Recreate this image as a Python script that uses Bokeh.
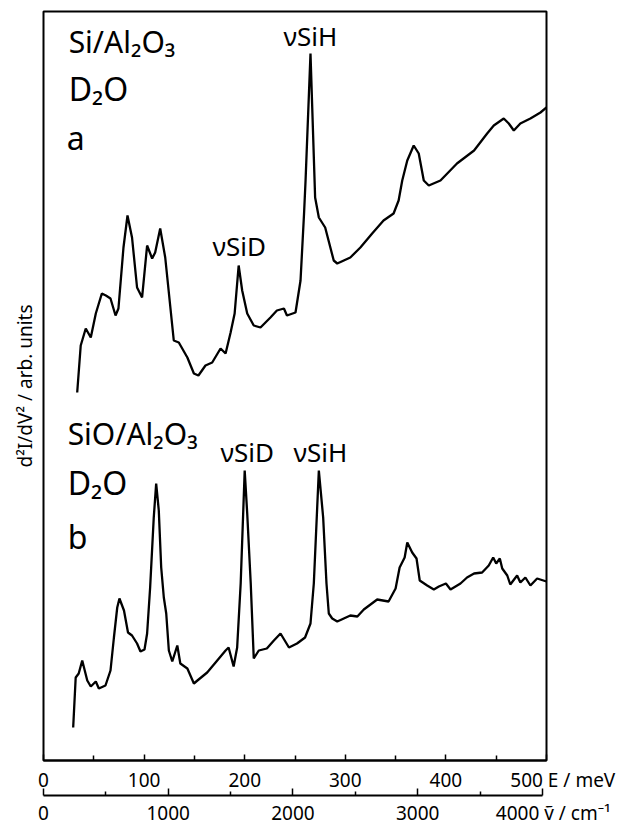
from bokeh.plotting import figure
from bokeh.models import Range1d, LinearAxis, FixedTicker, Label
from bokeh.embed import file_html
from bokeh.resources import INLINE

# ---- data (E in meV, signal in arbitrary units) ----
E_a = [33.5, 37, 42, 47, 52, 58, 62, 66.6, 71.6, 74.5, 79.5, 83.5, 88, 93, 98,
       103, 108, 111, 116, 121, 129.5, 134.5, 143, 149.5, 154, 161, 167.7, 176, 181, 186,
       190, 194, 197.5, 202.5, 209, 215.7, 225.6, 232, 239, 242, 250.5, 255.5, 259, 260.5, 265.4,
       270, 273.7, 280, 288.5, 292, 305, 315, 326.7, 338, 348, 353, 356.6, 361.6, 368, 373,
       378, 383, 394.6, 411, 428, 441, 447.6, 457.5, 462.5, 467.5, 474, 484, 494, 500]
I_a = [368, 415, 432, 423, 447, 467, 465, 462, 445, 452, 513, 545, 523, 473, 463,
       515, 502, 508, 532, 503, 420, 418, 403, 387, 385, 395, 398, 412, 407, 428,
       447, 495, 470, 447, 435, 433, 443, 450, 452, 445, 448, 480, 547, 580, 707,
       563, 543, 533, 500, 497, 503, 513, 527, 540, 547, 560, 580, 600, 615, 607,
       580, 575, 580, 597, 610, 627, 635, 642, 637, 630, 637, 642, 648, 653]

E_b = [29.5, 32, 35, 38.5, 43.5, 47, 52, 55, 61.6, 66.6, 70, 73.3, 75.5, 80, 84,
       88, 93, 96.4, 100.4, 103, 106, 109.6, 112, 114.6, 117, 119.6, 122, 124.6, 128, 133,
       136, 143, 149.5, 153, 162.7, 172.7, 181, 184, 189, 192.5, 196, 200, 202.5, 206, 209,
       214, 222, 229, 235.6, 244, 252, 260, 265.4, 268.7, 273.7, 278, 281.3, 283.6, 287, 292,
       305, 312, 318.4, 331.7, 343, 350, 354, 359, 361.6, 366.5, 370.8, 374, 381.4, 388, 393,
       400, 404.6, 414.5, 421, 428, 436, 442.6, 447, 450, 453.6, 456, 461, 464, 470.8, 474,
       479, 484, 490.7, 500]
I_b = [33, 83, 87, 100, 80, 74, 79, 72, 75, 90, 123, 153, 162, 150, 128,
       125, 117, 109, 111, 127, 173, 243, 277, 250, 193, 163, 147, 110, 99, 115,
       97, 92, 77, 80, 88, 100, 110, 113, 94, 113, 177, 290, 247, 177, 102,
       110, 112, 120, 127, 113, 117, 123, 137, 177, 290, 243, 177, 147, 142, 139,
       145, 144, 151, 161, 159, 172, 193, 203, 218, 208, 202, 180, 175, 171, 174,
       177, 171, 177, 183, 187, 188, 195, 203, 197, 202, 192, 185, 176, 185, 178,
       183, 175, 182, 179]

E_ticks = [0, 100, 200, 300, 400, 500]
E_minor = [50, 150, 250, 350, 450]
W_ticks = [0, 1000, 2000, 3000, 4000]
W_minor = [500, 1500, 2500, 3500]
MEV_TO_CM = 8.06554

FONT = "Noto Sans"
FS = "\u2007"  # figure space, used to shift the end labels

p = figure(frame_width=503, frame_height=749,
           min_border_left=43, min_border_right=77, min_border_top=11, min_border_bottom=50,
           x_range=Range1d(0, 500), y_range=Range1d(0, 749),
           output_backend="svg", toolbar_location=None)
p.grid.visible = False
p.outline_line_color = "black"
p.outline_line_width = 2
p.background_fill_color = "white"
p.border_fill_color = "white"

# energy axis
xa = p.xaxis[0]
xa.ticker = FixedTicker(ticks=E_ticks, minor_ticks=E_minor)
xa.axis_line_width = 2
xa.major_tick_in = 6
xa.major_tick_out = 0
xa.minor_tick_in = 5
xa.minor_tick_out = 0
xa.major_tick_line_width = 1.5
xa.minor_tick_line_width = 1.5
xa.major_label_text_font = FONT
xa.major_label_text_font_size = "19px"
xa.major_label_text_color = "black"
xa.major_label_standoff = 6
xa.major_label_overrides = {500: FS * 3 + "500 E / meV"}

# wavenumber axis
p.extra_x_ranges = {"wn": Range1d(0, 500 * MEV_TO_CM)}
wa = LinearAxis(x_range_name="wn", bounds=(0, 4000),
                ticker=FixedTicker(ticks=W_ticks, minor_ticks=W_minor))
wa.axis_line_width = 2
wa.major_tick_in = 7
wa.major_tick_out = 0
wa.minor_tick_in = 4
wa.minor_tick_out = 0
wa.major_tick_line_width = 1.5
wa.minor_tick_line_width = 1.5
wa.major_label_text_font = FONT
wa.major_label_text_font_size = "19px"
wa.major_label_text_color = "black"
wa.major_label_standoff = 4
wa.major_label_overrides = {4000: FS * 2 + "4000 \u1e7d / cm\u207b\u00b9"}
p.add_layout(wa, "below")

# y axis: label only
ya = p.yaxis[0]
ya.ticker = FixedTicker(ticks=[])
ya.axis_line_color = None
ya.major_tick_line_color = None
ya.minor_tick_line_color = None
ya.major_label_text_font_size = "0px"
ya.major_label_standoff = 0
ya.axis_label = "d\u00b2I/dV\u00b2 / arb. units"
ya.axis_label_text_font = FONT
ya.axis_label_text_font_size = "19px"
ya.axis_label_text_font_style = "normal"
ya.axis_label_text_color = "black"
ya.axis_label_standoff = 6

# spectra
p.line(E_a, I_a, line_width=2.3, line_color="black")
p.line(E_b, I_b, line_width=2.3, line_color="black")

def lab(x, y, t, size, align="left"):
    p.add_layout(Label(x=x, y=y, text=t, text_font=FONT, text_font_size=size,
                       text_color="black", text_align=align, text_baseline="alphabetic"))

lab(25, 719, "Si/Al\u2082O\u2083", "30px")
lab(25, 672, "D\u2082O", "32px")
lab(23, 623, "a", "32px")
lab(238.6, 725, "\u03bdSiH", "26px")
lab(168, 515, "\u03bdSiD", "26px")
lab(24, 327, "SiO/Al\u2082O\u2083", "30px")
lab(24, 278, "D\u2082O", "32px")
lab(24, 224, "b", "32px")
lab(176, 309, "\u03bdSiD", "26px")
lab(248.5, 309, "\u03bdSiH", "26px")

open("out.html", "w").write(file_html(p, INLINE))
